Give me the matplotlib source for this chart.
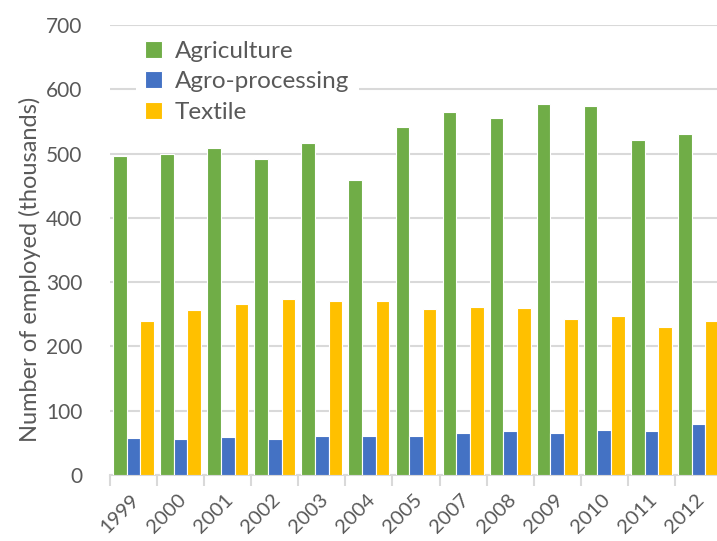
import numpy as np
import matplotlib
matplotlib.use("Agg")
import matplotlib.pyplot as plt
import matplotlib.transforms as mtransforms

years = ["1999", "2000", "2001", "2002", "2003", "2004", "2005",
         "2007", "2008", "2009", "2010", "2011", "2012"]
agriculture = [496, 499, 509, 491, 516, 459, 541, 564, 556, 577, 574, 521, 530]
agro_processing = [57, 56, 59, 56, 60, 60, 61, 65, 68, 65, 70, 68, 79]
textile = [240, 257, 266, 274, 270, 271, 259, 262, 260, 242, 247, 230, 240]

series = [("Agriculture", agriculture, "#70AD47"),
          ("Agro-processing", agro_processing, "#4472C4"),
          ("Textile", textile, "#FFC000")]

plt.rcParams['font.family'] = ['Lato', 'DejaVu Sans']
txt = "#595959"
grid = "#D9D9D9"

fig = plt.figure(figsize=(7.17, 5.41), dpi=100)
ax = fig.add_axes([110/717, 66/541, 612/717, 450/541])

x = np.arange(len(years))
w = 0.29
for i, (name, vals, col) in enumerate(series):
    ax.bar(x + (i - 1) * w, vals, width=w, color=col, edgecolor="white",
           linewidth=0.8, label=name, zorder=3)

ax.set_xlim(-0.5, len(years) - 0.5)
ax.set_ylim(0, 700)
ax.set_yticks(range(0, 701, 100))
ax.yaxis.grid(True, color=grid, linewidth=1.5, zorder=0)
ax.set_axisbelow(True)

for s in ["top", "right", "left"]:
    ax.spines[s].set_visible(False)
ax.spines["bottom"].set_color(grid)
ax.spines["bottom"].set_linewidth(1.5)

ax.tick_params(axis="y", length=0, pad=20, labelsize=15, labelcolor=txt)
ax.set_xticks(x)
ax.set_xticks(np.arange(-0.5, len(years), 1.0), minor=True)
ax.tick_params(axis="x", which="major", length=0, pad=6, labelsize=14.5, labelcolor=txt)
ax.tick_params(axis="x", which="minor", length=8, width=1.5, color=grid)
ax.set_xticklabels(years, rotation=45, ha="right", rotation_mode="anchor")
# shift rotated labels (pixels at dpi 100)
offset = mtransforms.ScaledTranslation(-3/100, -8/100, fig.dpi_scale_trans)
for lab in ax.get_xticklabels():
    lab.set_transform(lab.get_transform() + offset)

ax.set_ylabel("Number of employed (thousands)", fontsize=17, color=txt)
ax.yaxis.set_label_coords(-0.112, 0.456)

leg = ax.legend(loc="upper left", bbox_to_anchor=(0.022, 1.013), frameon=True,
                fontsize=17.5, handlelength=0.7, handleheight=0.7,
                handletextpad=0.5, labelspacing=0.38, borderpad=0.4)
leg.get_frame().set_facecolor("white")
leg.get_frame().set_edgecolor("none")
leg.get_frame().set_alpha(1)
for t in leg.get_texts():
    t.set_color(txt)

fig.savefig("out.png", dpi=100)
